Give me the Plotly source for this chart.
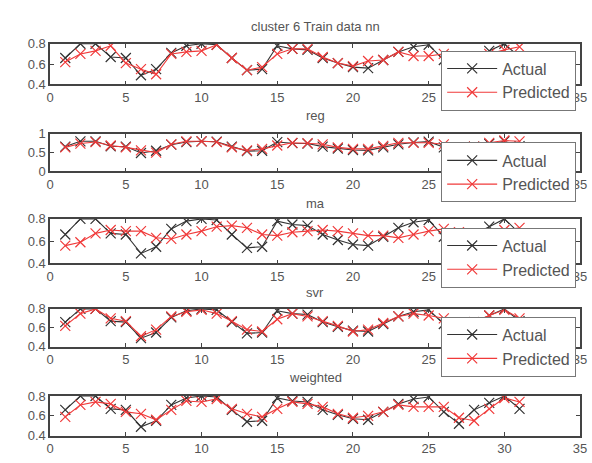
import plotly.graph_objects as go

x = list(range(1, 32))

actual = [0.66, 0.80, 0.80, 0.67, 0.66, 0.49, 0.55, 0.71, 0.78, 0.80, 0.79, 0.66, 0.54, 0.55, 0.78, 0.75,
          0.74, 0.66, 0.61, 0.57, 0.56, 0.64, 0.72, 0.77, 0.79, 0.64, 0.52, 0.66, 0.73, 0.80, 0.67]

pred_nn = [0.62, 0.70, 0.73, 0.78, 0.61, 0.55, 0.50, 0.70, 0.72, 0.73, 0.79, 0.66, 0.54, 0.57, 0.70, 0.75,
           0.75, 0.67, 0.61, 0.58, 0.63, 0.64, 0.72, 0.68, 0.68, 0.70, 0.62, 0.60, 0.70, 0.74, 0.77]
pred_reg = [0.64, 0.74, 0.78, 0.69, 0.64, 0.56, 0.50, 0.72, 0.80, 0.80, 0.78, 0.64, 0.56, 0.60, 0.69, 0.76,
            0.75, 0.72, 0.64, 0.60, 0.60, 0.68, 0.76, 0.76, 0.76, 0.72, 0.60, 0.66, 0.76, 0.82, 0.80]
pred_ma = [0.56, 0.59, 0.67, 0.70, 0.69, 0.69, 0.63, 0.62, 0.66, 0.69, 0.73, 0.74, 0.72, 0.66, 0.65, 0.68,
           0.69, 0.70, 0.69, 0.67, 0.65, 0.65, 0.63, 0.66, 0.69, 0.71, 0.68, 0.64, 0.65, 0.70, 0.72]
pred_svr = [0.62, 0.75, 0.80, 0.70, 0.67, 0.51, 0.58, 0.72, 0.77, 0.79, 0.75, 0.67, 0.58, 0.56, 0.69, 0.75,
            0.72, 0.67, 0.62, 0.56, 0.58, 0.65, 0.72, 0.75, 0.73, 0.70, 0.56, 0.66, 0.73, 0.79, 0.70]
pred_weighted = [0.59, 0.71, 0.74, 0.72, 0.64, 0.62, 0.56, 0.66, 0.75, 0.74, 0.77, 0.67, 0.62, 0.59, 0.67, 0.74,
                 0.72, 0.69, 0.62, 0.58, 0.60, 0.64, 0.71, 0.69, 0.69, 0.69, 0.58, 0.55, 0.67, 0.78, 0.74]

titles = ["cluster 6 Train data nn", "reg", "ma", "svr", "weighted"]
preds = [pred_nn, pred_reg, pred_ma, pred_svr, pred_weighted]
yranges = [[0.4, 0.8], [0, 1], [0.4, 0.8], [0.4, 0.8], [0.4, 0.8]]
yticks = [[0.4, 0.6, 0.8], [0, 0.5, 1], [0.4, 0.6, 0.8], [0.4, 0.6, 0.8], [0.4, 0.6, 0.8]]
yticktext = [["0.4", "0.6", "0.8"], ["0", "0.5", "1"], ["0.4", "0.6", "0.8"], ["0.4", "0.6", "0.8"], ["0.4", "0.6", "0.8"]]
xticks = [0, 5, 10, 15, 20, 25, 30, 35]

W, H = 592, 463
panels_px = [(38, 80), (131, 170), (219, 265), (312, 351), (402, 443)]
title_px = [20, 112, 203, 295, 383]
legend_top_px = [45, 140, 228, 320]
x_left, x_right = 47, 587

BLACK = "#333333"
RED = "#f03a3a"
TXT = "#555555"
FONT = "Liberation Sans, Arial, sans-serif"

fig = go.Figure()
layout = dict(width=W, height=H, margin=dict(l=0, r=0, t=0, b=0),
              paper_bgcolor="white", plot_bgcolor="white", showlegend=True,
              font=dict(family=FONT, color=TXT, size=13), annotations=[])

for i in range(5):
    n = i + 1
    sfx = "" if n == 1 else str(n)
    leg = "legend" if n == 1 else f"legend{n}"
    show = i < 4
    kw = dict(legend=leg) if show else {}
    fig.add_trace(go.Scatter(x=x, y=actual, name="Actual", mode="lines+markers",
                             xaxis="x" + sfx, yaxis="y" + sfx, showlegend=show,
                             line=dict(color=BLACK, width=1.1),
                             marker=dict(symbol="x-thin-open", size=10, line=dict(color=BLACK, width=1.2)), **kw))
    fig.add_trace(go.Scatter(x=x, y=preds[i], name="Predicted", mode="lines+markers",
                             xaxis="x" + sfx, yaxis="y" + sfx, showlegend=show,
                             line=dict(color=RED, width=1.1),
                             marker=dict(symbol="x-thin-open", size=10, line=dict(color=RED, width=1.2)), **kw))
    top, bot = panels_px[i]
    axcommon = dict(showline=True, mirror="ticks", linecolor="#444444", linewidth=1.5,
                    ticks="inside", ticklen=4, tickcolor="#444444", showgrid=False, zeroline=False,
                    ticklabeloverflow="allow",
                    tickfont=dict(family=FONT, size=13, color=TXT))
    layout["xaxis" + sfx] = dict(domain=[x_left / W, x_right / W], range=[0, 35],
                                 tickvals=xticks, ticktext=[str(t) for t in xticks],
                                 anchor="y" + sfx, **axcommon)
    layout["yaxis" + sfx] = dict(domain=[1 - bot / H, 1 - top / H], range=yranges[i],
                                 tickvals=yticks[i], ticktext=yticktext[i],
                                 anchor="x" + sfx, **axcommon)
    layout["annotations"].append(dict(text=titles[i], x=(x_left + x_right) / 2 / W, y=1 - title_px[i] / H,
                                      xref="paper", yref="paper", showarrow=False,
                                      xanchor="center", yanchor="middle",
                                      font=dict(family=FONT, size=13, color=TXT)))
    if show:
        layout[leg] = dict(x=583 / W, y=1 - legend_top_px[i] / H, xanchor="right", yanchor="top",
                           bgcolor="white", bordercolor="#777777", borderwidth=1,
                           font=dict(family=FONT, size=16, color=TXT),
                           itemwidth=50, tracegroupgap=0, visible=True)

fig.update_layout(**layout)
fig.write_html("out.html")
